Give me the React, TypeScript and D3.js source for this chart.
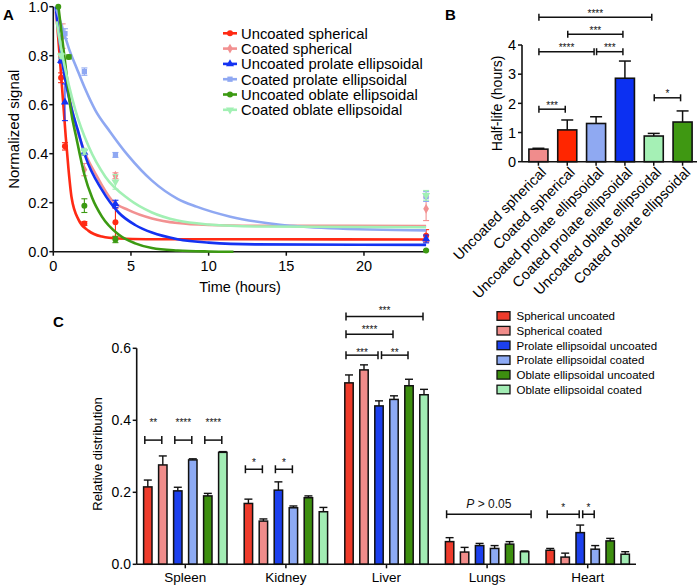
import React from 'react';
import * as d3 from 'd3';

const FONT = '"Liberation Sans", Arial, Helvetica, sans-serif';

// ---------- Panel A ----------
const seriesA = [
  'Uncoated spherical',
  'Coated spherical',
  'Uncoated prolate ellipsoidal',
  'Coated prolate ellipsoidal',
  'Uncoated oblate ellipsoidal',
  'Coated oblate ellipsoidal',
];
const colorsA = ['#ff2a14', '#f29191', '#1432f2', '#8fa8f2', '#3c9a12', '#a2f0b4'];
const markersA = ['circle', 'diamond', 'triangle', 'square', 'circle', 'triangleDown'];

// fitted decay curves: [hours, normalized signal]
const curveUS = [[0.2, 0.97], [0.54, 0.69], [0.8, 0.47], [0.96, 0.35], [1.18, 0.22], [1.63, 0.13], [2.27, 0.085], [3.13, 0.062], [4.2, 0.054], [6, 0.051], [24, 0.05]];
const curveCS = [[0.15, 0.98], [0.64, 0.76], [1.2, 0.58], [2.06, 0.4], [2.7, 0.32], [3.77, 0.21], [4.85, 0.17], [6.35, 0.136], [8, 0.117], [10, 0.109], [13, 0.106], [24, 0.105]];
const curveUP = [[0.15, 1.0], [0.64, 0.75], [1.2, 0.578], [1.56, 0.5], [2.06, 0.39], [3.13, 0.252], [4.2, 0.16], [5.27, 0.109], [6.35, 0.078], [8, 0.051], [10, 0.037], [13, 0.03], [24, 0.028]];
const curveCP = [[0.2, 0.99], [0.75, 0.88], [1.0, 0.83], [1.5, 0.75], [2, 0.672], [2.7, 0.578], [3.65, 0.49], [4.85, 0.39], [6.35, 0.29], [8, 0.216], [9.22, 0.184], [11.4, 0.143], [14.6, 0.11], [17.8, 0.096], [24, 0.087]];
const curveUO = [[0.33, 1.0], [0.86, 0.72], [1.1, 0.59], [1.5, 0.46], [2, 0.315], [2.5, 0.22], [3.13, 0.143], [4.2, 0.07], [5.27, 0.034], [6.35, 0.015], [8, 0.005], [10, 0.001], [11.6, 0]];
const curveCO = [[0.22, 0.94], [0.5, 0.83], [1.0, 0.68], [1.42, 0.578], [2.27, 0.43], [3.35, 0.306], [4.85, 0.215], [6.35, 0.16], [8, 0.127], [10, 0.111], [13, 0.103], [24, 0.1]];
const curvesA = [curveUS, curveCS, curveUP, curveCP, curveUO, curveCO];

// measured points: times, means, SEM
const timesUS = [0.5, 0.75, 2, 4, 24];
const meanUS = [0.71, 0.43, 0.115, 0.12, 0.065];
const semUS = [0.02, 0.015, 0.008, 0.058, 0.025];
const timesCS = [0.6, 2, 4, 24];
const meanCS = [0.88, 0.335, 0.31, 0.175];
const semCS = [0.05, 0.025, 0.012, 0.048];
const timesUP = [0.5, 0.75, 2, 4, 24];
const meanUP = [0.78, 0.61, 0.405, 0.195, 0.052];
const semUP = [0.01, 0.075, 0.01, 0.015, 0.016];
const timesCP = [0.75, 2, 4, 24];
const meanCP = [0.89, 0.735, 0.395, 0.225];
const semCP = [0.02, 0.015, 0.01, 0.02];
const timesUO = [0.32, 1, 2, 4, 24];
const meanUO = [1.0, 0.795, 0.188, 0.05, 0.005];
const semUO = [0, 0.008, 0.028, 0.013, 0.003];
const timesCO = [0.5, 2, 4, 24];
const meanCO = [0.8, 0.41, 0.285, 0.23];
const semCO = [0.01, 0.012, 0.03, 0.02];
const pointsA = [
  [timesUS, meanUS, semUS],
  [timesCS, meanCS, semCS],
  [timesUP, meanUP, semUP],
  [timesCP, meanCP, semCP],
  [timesUO, meanUO, semUO],
  [timesCO, meanCO, semCO],
];
const xTicksA = [0, 5, 10, 15, 20];
const yTicksA = [0, 0.2, 0.4, 0.6, 0.8, 1.0];

// ---------- Panel B ----------
const categoriesB = seriesA;
const halfLife = [0.43, 1.09, 1.31, 2.86, 0.88, 1.36];
const halfLifeErr = [0.03, 0.34, 0.23, 0.59, 0.09, 0.38];
const colorsB = ['#f08c8c', '#ff2600', '#8fa9f2', '#0c30f2', '#a5f0b5', '#3f9812'];
const yTicksB = [0, 1, 2, 3, 4];
// [from bar, to bar, level (hours), label]
const bracketsB: [number, number, number, string][] = [
  [0, 4, 4.95, '****'],
  [1, 3, 4.37, '***'],
  [0, 2, 3.77, '****'],
  [2, 3, 3.77, '***'],
  [0, 1, 1.8, '***'],
  [4, 5, 2.19, '*'],
];

// ---------- Panel C ----------
const organs = ['Spleen', 'Kidney', 'Liver', 'Lungs', 'Heart'];
const seriesC = [
  'Spherical uncoated',
  'Spherical coated',
  'Prolate ellipsoidal uncoated',
  'Prolate ellipsoidal coated',
  'Oblate ellipsoidal uncoated',
  'Oblate ellipsoidal coated',
];
const colorsC = ['#ee3b2b', '#f08c8a', '#1c40ee', '#8daaf4', '#3d8f0f', '#a2ecb4'];
const sphericalUncoated = [0.215, 0.169, 0.504, 0.063, 0.039];
const sphericalUncoatedErr = [0.019, 0.012, 0.022, 0.011, 0.005];
const sphericalCoated = [0.276, 0.12, 0.54, 0.034, 0.02];
const sphericalCoatedErr = [0.025, 0.006, 0.014, 0.013, 0.011];
const prolateUncoated = [0.204, 0.206, 0.44, 0.052, 0.088];
const prolateUncoatedErr = [0.01, 0.023, 0.014, 0.006, 0.021];
const prolateCoated = [0.29, 0.157, 0.458, 0.044, 0.042];
const prolateCoatedErr = [0.003, 0.005, 0.01, 0.008, 0.01];
const oblateUncoated = [0.19, 0.185, 0.496, 0.056, 0.065];
const oblateUncoatedErr = [0.007, 0.005, 0.018, 0.007, 0.007];
const oblateCoated = [0.311, 0.146, 0.471, 0.035, 0.028];
const oblateCoatedErr = [0.002, 0.012, 0.015, 0.002, 0.007];
const valuesC = [sphericalUncoated, sphericalCoated, prolateUncoated, prolateCoated, oblateUncoated, oblateCoated];
const errorsC = [sphericalUncoatedErr, sphericalCoatedErr, prolateUncoatedErr, prolateCoatedErr, oblateUncoatedErr, oblateCoatedErr];
const yTicksC = [0, 0.2, 0.4, 0.6];
// [organ, from series, to series, level, label level, label]
const bracketsC: [number, number, number, number, number, string][] = [
  [0, 0, 1, 0.345, 0.4, '**'],
  [0, 2, 3, 0.345, 0.4, '****'],
  [0, 4, 5, 0.345, 0.4, '****'],
  [1, 0, 1, 0.264, 0.29, '*'],
  [1, 2, 3, 0.264, 0.29, '*'],
  [2, 0, 5, 0.688, 0.711, '***'],
  [2, 0, 3, 0.639, 0.66, '****'],
  [2, 0, 2, 0.581, 0.596, '***'],
  [2, 2, 4, 0.581, 0.596, '**'],
  [3, 0, 5.5, 0.139, 0.169, 'P > 0.05'],
  [4, 0, 2, 0.139, 0.165, '*'],
  [4, 2, 3, 0.139, 0.165, '*'],
];

function markerPath(kind: string, size: number) {
  const map: any = {
    circle: d3.symbolCircle,
    diamond: d3.symbolDiamond,
    triangle: d3.symbolTriangle,
    square: d3.symbolSquare,
    triangleDown: d3.symbolTriangle,
  };
  return d3.symbol(map[kind], size)() as string;
}

function Marker({ kind, x, y, color, size = 30 }: any) {
  const rot = kind === 'triangleDown' ? ' rotate(180)' : '';
  return <path d={markerPath(kind, size)} transform={`translate(${x},${y})${rot}`} fill={color} />;
}

function PanelA() {
  const x = d3.scaleLinear().domain([0, 24]).range([53.3, 426.1]);
  const y = d3.scaleLinear().domain([0, 1]).range([251.7, 6.7]);
  const line = d3
    .line<number[]>()
    .x((d) => x(d[0]))
    .y((d) => y(d[1]))
    .curve(d3.curveMonotoneX);
  return (
    <g>
      <text x={3} y={20} fontSize={15} fontWeight="bold" fontFamily={FONT}>A</text>
      {/* axes */}
      <line x1={x(0)} x2={x(0)} y1={y(1)} y2={y(0)} stroke="#111" strokeWidth={1.6} />
      <line x1={x(0)} x2={x(24)} y1={y(0)} y2={y(0)} stroke="#111" strokeWidth={1.6} />
      {yTicksA.map((t) => (
        <g key={'ya' + t}>
          <line x1={x(0) - 4} x2={x(0)} y1={y(t)} y2={y(t)} stroke="#111" strokeWidth={1.5} />
          <text x={x(0) - 5} y={y(t)} dy="0.36em" textAnchor="end" fontSize={14.5} fontFamily={FONT}>
            {t.toFixed(1)}
          </text>
        </g>
      ))}
      {xTicksA.map((t) => (
        <g key={'xa' + t}>
          <line x1={x(t)} x2={x(t)} y1={y(0)} y2={y(0) + 4} stroke="#111" strokeWidth={1.5} />
          <text x={x(t)} y={y(0) + 19} textAnchor="middle" fontSize={14.5} fontFamily={FONT}>
            {t}
          </text>
        </g>
      ))}
      <text x={240} y={292} textAnchor="middle" fontSize={14.5} fontFamily={FONT}>Time (hours)</text>
      <text transform={`translate(18.5,${y(0.5)}) rotate(-90)`} textAnchor="middle" fontSize={15} fontFamily={FONT}>
        Normalized signal
      </text>
      {/* curves and points */}
      {seriesA.map((s, i) => {
        const [ts, ms, es] = pointsA[i];
        return (
          <g key={'sa' + i}>
            <path d={line(curvesA[i] as any) as string} fill="none" stroke={colorsA[i]} strokeWidth={2.6} />
            {ts.map((t, j) => {
              const cx = x(t);
              const e = es[j];
              return (
                <g key={j}>
                  {e > 0 && (
                    <g stroke={colorsA[i]} strokeWidth={1.1}>
                      <line x1={cx} x2={cx} y1={y(ms[j] - e)} y2={y(ms[j] + e)} />
                      <line x1={cx - 3} x2={cx + 3} y1={y(ms[j] - e)} y2={y(ms[j] - e)} />
                      <line x1={cx - 3} x2={cx + 3} y1={y(ms[j] + e)} y2={y(ms[j] + e)} />
                    </g>
                  )}
                  <Marker kind={markersA[i]} x={cx} y={y(ms[j])} color={colorsA[i]} size={28} />
                </g>
              );
            })}
          </g>
        );
      })}
      {/* legend */}
      {seriesA.map((s, i) => {
        const ly = 33.3 + i * 15.3;
        return (
          <g key={'la' + i}>
            <line x1={223} x2={237} y1={ly} y2={ly} stroke={colorsA[i]} strokeWidth={2.6} />
            <Marker kind={markersA[i]} x={230} y={ly} color={colorsA[i]} size={28} />
            <text x={241} y={ly} dy="0.36em" fontSize={14.8} fontFamily={FONT}>{s}</text>
          </g>
        );
      })}
    </g>
  );
}

function PanelB() {
  const x = d3.scaleBand().domain(categoriesB).range([524, 697]).paddingInner(0.34).paddingOuter(0.17);
  const y = d3.scaleLinear().domain([0, 4]).range([161.7, 45]);
  const bw = x.bandwidth();
  const c = (i: number) => (x(categoriesB[0]) as number) + bw / 2 + i * x.step();
  return (
    <g>
      <text x={445} y={20} fontSize={15} fontWeight="bold" fontFamily={FONT}>B</text>
      {categoriesB.map((cat, i) => {
        const cx = (x(cat) as number) + bw / 2;
        const top = halfLife[i] + halfLifeErr[i];
        return (
          <g key={'b' + i}>
            <line x1={cx} x2={cx} y1={y(halfLife[i])} y2={y(top)} stroke="#111" strokeWidth={1.5} />
            <line x1={cx - 6} x2={cx + 6} y1={y(top)} y2={y(top)} stroke="#111" strokeWidth={1.5} />
            <rect
              x={x(cat)}
              y={y(halfLife[i])}
              width={bw}
              height={y(0) - y(halfLife[i])}
              fill={colorsB[i]}
              stroke="#111"
              strokeWidth={1.6}
            />
          </g>
        );
      })}
      <line x1={522} x2={522} y1={y(4)} y2={y(0)} stroke="#111" strokeWidth={1.6} />
      <line x1={522} x2={697} y1={y(0)} y2={y(0)} stroke="#111" strokeWidth={1.6} />
      {yTicksB.map((t) => (
        <g key={'yb' + t}>
          <line x1={518} x2={522} y1={y(t)} y2={y(t)} stroke="#111" strokeWidth={1.5} />
          <text x={516} y={y(t)} dy="0.36em" textAnchor="end" fontSize={14.5} fontFamily={FONT}>{t}</text>
        </g>
      ))}
      {categoriesB.map((cat, i) => {
        const cx = (x(cat) as number) + bw / 2;
        return (
          <g key={'xb' + i}>
            <line x1={cx} x2={cx} y1={y(0)} y2={y(0) + 4} stroke="#111" strokeWidth={1.5} />
            <text
              transform={`translate(${cx + 5},${y(0) + 8}) rotate(-45)`}
              dy="0.35em"
              textAnchor="end"
              fontSize={14.5}
              fontFamily={FONT}
            >
              {cat}
            </text>
          </g>
        );
      })}
      <text transform={`translate(501.5,${y(2)}) rotate(-90)`} textAnchor="middle" fontSize={14} fontFamily={FONT}>
        Half-life (hours)
      </text>
      {bracketsB.map(([a, b, lvl, lab], k) => {
        const x1 = c(a) + 0.5;
        const x2 = c(b) - 2;
        const yy = y(lvl);
        return (
          <g key={'bb' + k} stroke="#111" strokeWidth={1.5}>
            <line x1={x1} x2={x2} y1={yy} y2={yy} />
            <line x1={x1} x2={x1} y1={yy - 3.5} y2={yy + 3.5} />
            <line x1={x2} x2={x2} y1={yy - 3.5} y2={yy + 3.5} />
            <text x={(x1 + x2) / 2} y={yy - 0.5} textAnchor="middle" fontSize={10} fontFamily={FONT} stroke="none" fill="#111">
              {lab}
            </text>
          </g>
        );
      })}
    </g>
  );
}

function PanelC() {
  const x = d3.scaleBand().domain(organs).range([135, 638]);
  const xs = d3.scaleBand().domain(seriesC).range([-45, 45]).paddingInner(0.44).paddingOuter(0.22);
  const y = d3.scaleLinear().domain([0, 0.6]).range([564.3, 348.3]);
  const bw = xs.bandwidth();
  const center = (g: number, s: number) =>
    (x(organs[g]) as number) + x.bandwidth() / 2 + (xs(seriesC[0]) as number) + bw / 2 + s * xs.step();
  return (
    <g>
      <text x={53} y={327} fontSize={15} fontWeight="bold" fontFamily={FONT}>C</text>
      {organs.map((o, g) => {
        const gx = (x(o) as number) + x.bandwidth() / 2;
        return (
          <g key={'o' + g}>
            {seriesC.map((s, i) => {
              const v = valuesC[i][g];
              const top = v + errorsC[i][g];
              const bx = gx + (xs(s) as number);
              const cx = bx + bw / 2;
              return (
                <g key={'c' + i}>
                  <line x1={cx} x2={cx} y1={y(v)} y2={y(top)} stroke="#111" strokeWidth={1.4} />
                  <line x1={cx - 4} x2={cx + 4} y1={y(top)} y2={y(top)} stroke="#111" strokeWidth={1.4} />
                  <rect x={bx} y={y(v)} width={bw} height={y(0) - y(v)} fill={colorsC[i]} stroke="#111" strokeWidth={1.5} />
                </g>
              );
            })}
            <line x1={gx} x2={gx} y1={y(0)} y2={y(0) + 4} stroke="#111" strokeWidth={1.5} />
            <text x={gx} y={581.5} textAnchor="middle" fontSize={13.5} fontFamily={FONT}>{o}</text>
          </g>
        );
      })}
      <line x1={136.7} x2={136.7} y1={y(0.6)} y2={y(0)} stroke="#111" strokeWidth={1.6} />
      <line x1={136.7} x2={636} y1={y(0)} y2={y(0)} stroke="#111" strokeWidth={1.6} />
      {yTicksC.map((t) => (
        <g key={'yc' + t}>
          <line x1={132.7} x2={136.7} y1={y(t)} y2={y(t)} stroke="#111" strokeWidth={1.5} />
          <text x={131} y={y(t)} dy="0.36em" textAnchor="end" fontSize={14} fontFamily={FONT}>{t.toFixed(1)}</text>
        </g>
      ))}
      <text transform={`translate(101.5,454) rotate(-90)`} textAnchor="middle" fontSize={13} fontFamily={FONT}>
        Relative distribution
      </text>
      {bracketsC.map(([g, a, b, lvl, labLvl, lab], k) => {
        const shared = bracketsC.some((o) => o[0] === g && o[3] === lvl && o[2] === a);
        const x1 = center(g, a) + (shared ? 2.5 : -3);
        const x2 = center(g, b) - 1;
        const yy = y(lvl);
        const isP = lab.startsWith('P');
        return (
          <g key={'bc' + k} stroke="#111" strokeWidth={1.5}>
            <line x1={x1} x2={x2} y1={yy} y2={yy} />
            <line x1={x1} x2={x1} y1={yy - 4} y2={yy + 4} />
            <line x1={x2} x2={x2} y1={yy - 4} y2={yy + 4} />
            {isP ? (
              <text x={(x1 + x2) / 2} y={y(labLvl) + 4.3} textAnchor="middle" fontSize={12} fontFamily={FONT} stroke="none" fill="#111">
                <tspan fontStyle="italic">P</tspan>
                {' > 0.05'}
              </text>
            ) : (
              <text x={(x1 + x2) / 2} y={y(labLvl) + 5.8} textAnchor="middle" fontSize={10} fontFamily={FONT} stroke="none" fill="#111">
                {lab}
              </text>
            )}
          </g>
        );
      })}
      {seriesC.map((s, i) => {
        const ly = 316 + i * 14.7;
        return (
          <g key={'lc' + i}>
            <rect x={497} y={ly - 4.3} width={13} height={8.6} fill={colorsC[i]} stroke="#111" strokeWidth={1.3} />
            <text x={516.5} y={ly} dy="0.36em" fontSize={11.5} fontFamily={FONT}>{s}</text>
          </g>
        );
      })}
    </g>
  );
}

export default function App() {
  return (
    <svg
      width={700}
      height={585}
      viewBox="0 0 700 585"
      style={{ position: 'absolute', left: 0, top: 0, background: '#fff' }}
      fontFamily={FONT}
    >
      <rect width={700} height={585} fill="#fff" />
      <PanelA />
      <PanelB />
      <PanelC />
    </svg>
  );
}
